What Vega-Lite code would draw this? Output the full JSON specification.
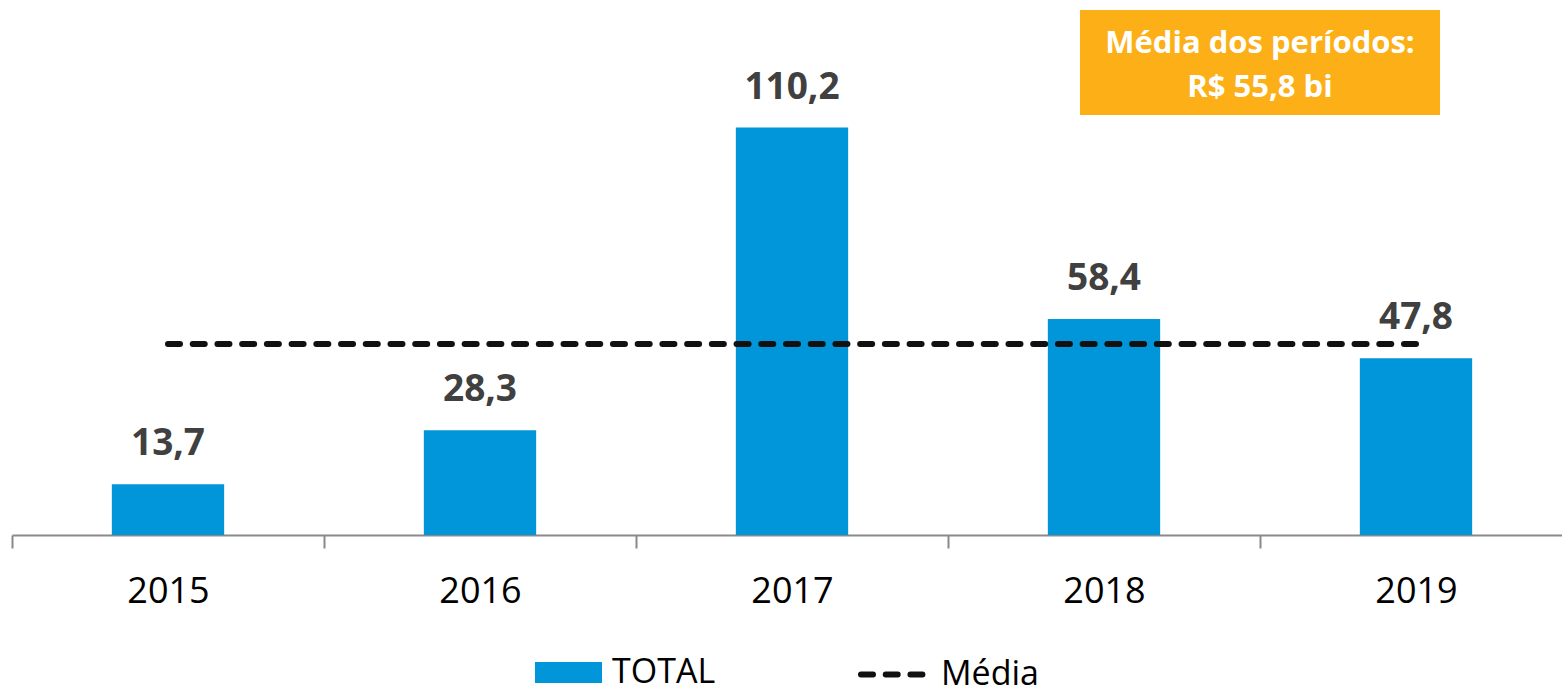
{
  "$schema": "https://vega.github.io/schema/vega-lite/v6.json",
  "width": 1550,
  "height": 535,
  "autosize": {"type": "none"},
  "padding": {"left": 12, "top": 0, "right": 0, "bottom": 162},
  "config": {
    "view": {"stroke": null},
    "font": "Open Sans",
    "locale": {"number": {"decimal": ",", "thousands": ".", "grouping": [3], "currency": ["R$ ", ""]}}
  },
  "data": {
    "values": [
      {"ano": "2015", "total": 13.7, "media": 51.68},
      {"ano": "2016", "total": 28.3, "media": 51.68},
      {"ano": "2017", "total": 110.2, "media": 51.68},
      {"ano": "2018", "total": 58.4, "media": 51.68},
      {"ano": "2019", "total": 47.8, "media": 51.68}
    ]
  },
  "encoding": {
    "x": {
      "field": "ano",
      "type": "nominal",
      "scale": {"range": [0, 1560], "paddingInner": 0, "paddingOuter": 0},
      "axis": {
        "title": null,
        "domainColor": "#898989",
        "domainWidth": 2,
        "tickColor": "#898989",
        "tickWidth": 2,
        "tickSize": 13,
        "tickBand": "extent",
        "labelFont": "Open Sans",
        "labelFontSize": 36,
        "labelColor": "#000000",
        "labelPadding": 26,
        "labelAngle": 0,
        "grid": false
      }
    }
  },
  "layer": [
    {
      "mark": {"type": "bar", "width": {"band": 0.36}},
      "encoding": {
        "y": {"field": "total", "type": "quantitative", "scale": {"domain": [0, 144.7], "nice": false, "zero": true}, "axis": null},
        "color": {
          "datum": "TOTAL",
          "scale": {"range": ["#0096D9"]},
          "legend": {
            "orient": "none",
            "legendX": 523,
            "legendY": 639,
            "title": null,
            "padding": 0,
            "symbolType": "M-1,-0.31H1V0.31H-1Z",
            "symbolSize": 4489,
            "symbolStrokeWidth": 0,
            "labelFont": "Open Sans",
            "labelFontSize": 34,
            "labelColor": "#000000",
            "labelOffset": 10
          }
        }
      }
    },
    {
      "mark": {"type": "line", "stroke": "#111111", "strokeWidth": 6, "strokeCap": "round"},
      "encoding": {
        "y": {"field": "media", "type": "quantitative"},
        "strokeDash": {
          "datum": "Média",
          "scale": {"range": [[12, 12.72]]},
          "legend": {
            "orient": "none",
            "legendX": 846,
            "legendY": 639,
            "title": null,
            "padding": 0,
            "symbolType": "stroke",
            "symbolSize": 4225,
            "symbolStrokeColor": "#111111",
            "symbolStrokeWidth": 6,
            "labelFont": "Open Sans",
            "labelFontSize": 34,
            "labelColor": "#000000",
            "labelOffset": 12,
            "encode": {"symbols": {"update": {"strokeCap": {"value": "round"}}}}
          }
        }
      }
    },
    {
      "mark": {"type": "text", "font": "Open Sans", "fontWeight": "bold", "fontSize": 37, "color": "#404040", "baseline": "alphabetic", "dy": -29},
      "encoding": {
        "y": {"field": "total", "type": "quantitative"},
        "text": {"field": "total", "type": "quantitative", "format": ".1f"}
      }
    },
    {
      "data": {"values": [{}]},
      "mark": {"type": "rect", "color": "#FCAF17"},
      "encoding": {
        "x": {"datum": "2018", "bandPosition": 0.423},
        "x2": {"datum": "2019", "bandPosition": 0.577},
        "y": {"datum": 142.0},
        "y2": {"datum": 113.6}
      }
    },
    {
      "data": {"values": [{}]},
      "mark": {"type": "text", "text": ["Média dos períodos:", "R$ 55,8 bi"], "font": "Open Sans", "fontWeight": "bold", "fontSize": 31, "color": "#FFFFFF", "align": "center", "baseline": "alphabetic", "lineHeight": 44},
      "encoding": {
        "x": {"datum": "2019", "bandPosition": 0},
        "y": {"datum": 130.3}
      }
    }
  ]
}
